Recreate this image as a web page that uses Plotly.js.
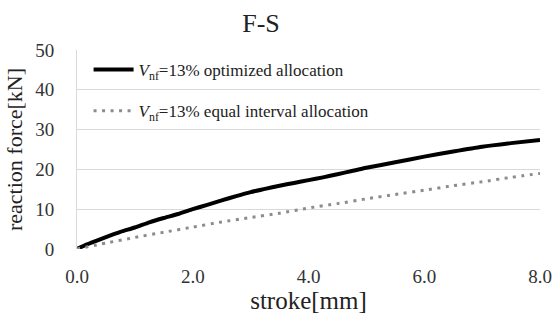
<!DOCTYPE html>
<html><head><meta charset="utf-8">
<script src="https://cdn.plot.ly/plotly-3.0.1.min.js"></script>
<style>body{margin:0;background:#fff}#c{width:553px;height:322px}</style>
</head><body><div id="c"></div>
<script>
var strokeOpt = [0, 0.1, 0.25, 0.5, 0.75, 1, 1.25, 1.5, 1.75, 2, 2.25, 2.5, 2.75, 3, 3.25, 3.5, 3.75, 4, 4.25, 4.5, 4.75, 5, 5.5, 6, 6.5, 7, 7.5, 8];
var forceOpt  = [0, 0.7, 1.6, 3.0, 4.3, 5.4, 6.7, 7.8, 8.8, 10.0, 11.1, 12.2, 13.3, 14.3, 15.1, 15.9, 16.6, 17.3, 18.0, 18.8, 19.6, 20.4, 21.8, 23.2, 24.5, 25.7, 26.6, 27.4];
var strokeEq = [0, 0.5, 1, 1.5, 2, 2.5, 3, 3.5, 4, 4.5, 5, 5.5, 6, 6.5, 7, 7.5, 8];
var forceEq  = [0, 1.5, 2.9, 4.2, 5.5, 6.8, 7.9, 9.0, 10.3, 11.4, 12.6, 13.7, 14.8, 15.9, 16.9, 18.0, 19.0];
var xTicks = [0, 2, 4, 6, 8];
var xTickText = ['0.0', '2.0', '4.0', '6.0', '8.0'];
var yTicks = [0, 10, 20, 30, 40, 50];
var nameOpt = '<i>V</i><sub>nf</sub>=13% optimized allocation';
var nameEq = '<i>V</i><sub>nf</sub>=13% equal interval allocation';

var serif = "'Liberation Serif', 'Times New Roman', serif";
var data = [
  {x: strokeOpt, y: forceOpt, mode: 'lines', name: nameOpt, line: {color: '#000', width: 4, shape: 'spline', smoothing: 0.6}, legend: 'legend'},
  {x: strokeEq, y: forceEq, mode: 'lines', name: nameEq, line: {color: '#8c8c8c', width: 3, dash: '3px,5.5px', shape: 'spline', smoothing: 0.6}, legend: 'legend2'}
];
var legendFont = {family: serif, size: 17, color: '#222'};
var layout = {
  width: 553, height: 322,
  margin: {l: 77, r: 13, t: 50, b: 73},
  paper_bgcolor: '#fff', plot_bgcolor: '#fff',
  font: {family: serif, color: '#333'},
  title: {text: 'F-S', font: {family: serif, size: 26, color: '#222'}, x: 0.472, xanchor: 'center', xref: 'container', y: 0.928, yanchor: 'middle'},
  xaxis: {range: [0, 8], tickvals: xTicks, ticktext: xTickText, showgrid: false, zeroline: false,
    showline: false, ticks: '', ticklabelstandoff: 14, tickfont: {family: serif, size: 19, color: '#333'},
    title: {text: 'stroke[mm]', font: {family: serif, size: 25, color: '#222'}, standoff: 3}},
  yaxis: {range: [0, 50], tickvals: yTicks, showgrid: true, gridcolor: '#d9d9d9', gridwidth: 1,
    zeroline: false, showline: true, linecolor: '#d9d9d9', ticks: '', ticklabelstandoff: 18, tickfont: {family: serif, size: 19, color: '#333'},
    title: {text: 'reaction force[kN]', font: {family: serif, size: 22, color: '#222'}, standoff: 6}},
  legend: {x: 0.025, y: 0.9, xanchor: 'left', yanchor: 'middle', itemwidth: 40, bgcolor: 'rgba(0,0,0,0)', font: legendFont},
  legend2: {x: 0.025, y: 0.693, xanchor: 'left', yanchor: 'middle', itemwidth: 40, bgcolor: 'rgba(0,0,0,0)', font: legendFont},
  showlegend: true
};
Plotly.newPlot('c', data, layout, {displayModeBar: false});
</script></body></html>
